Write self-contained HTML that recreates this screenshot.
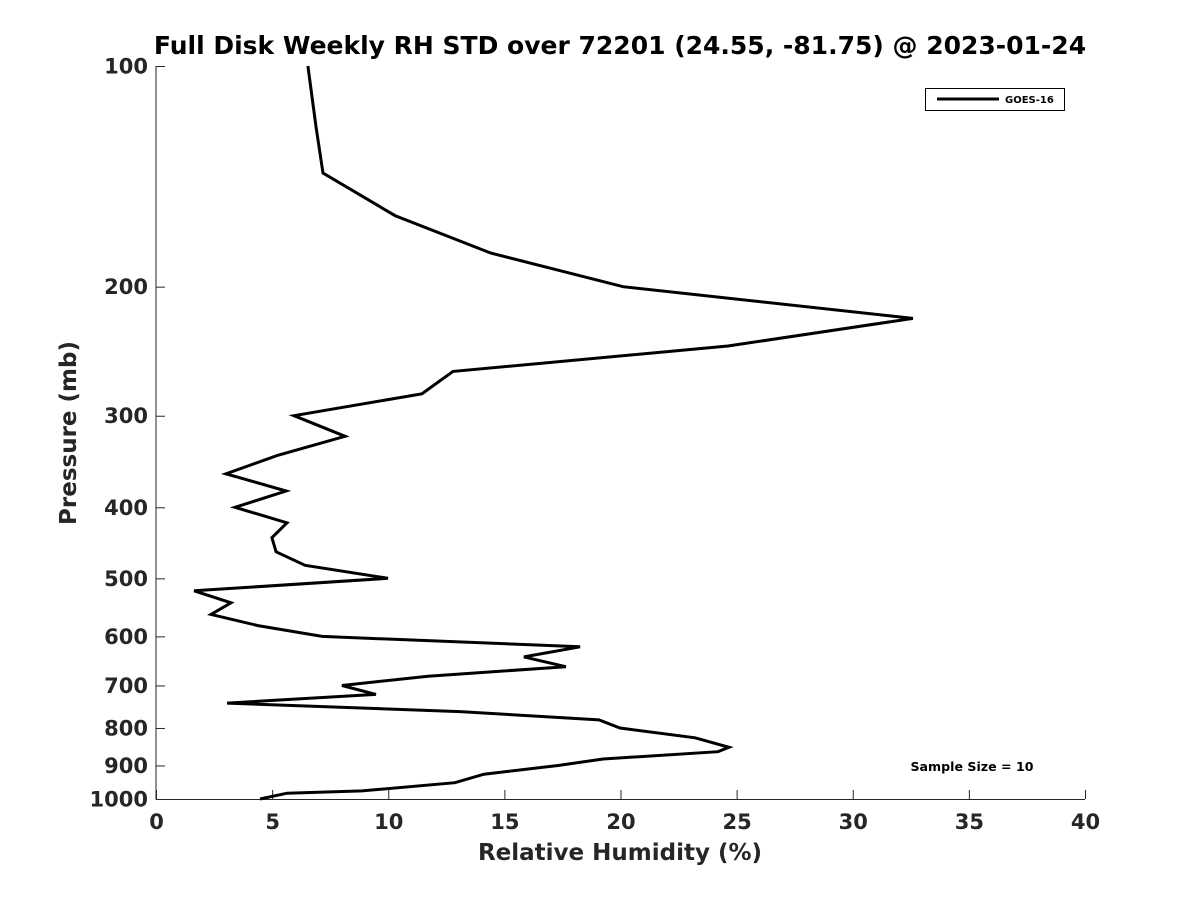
<!DOCTYPE html>
<html><head><meta charset="utf-8"><style>
html,body{margin:0;padding:0;background:#fff;}
svg{display:block;font-family:"DejaVu Sans","Liberation Sans",sans-serif;}
</style></head><body>
<svg id="chart" width="1200" height="900">
<rect width="1200" height="900" fill="#fff"/>
<text x="620" y="54" text-anchor="middle" font-size="25" font-weight="bold" fill="#000">Full Disk Weekly RH STD over 72201 (24.55, -81.75) @ 2023-01-24</text>
<g id="axes"></g>
<polyline id="series" fill="none" stroke="#000" stroke-width="3" stroke-linejoin="miter"/>
<text x="620" y="860" text-anchor="middle" font-size="23" font-weight="bold" fill="#262626">Relative Humidity (%)</text>
<text transform="translate(76,433) rotate(-90)" text-anchor="middle" font-size="23" font-weight="bold" fill="#262626">Pressure (mb)</text>
<g>
<rect x="925.5" y="88.5" width="139" height="22" fill="#fff" stroke="#000" stroke-width="1"/>
<line x1="937" y1="99" x2="999" y2="99" stroke="#000" stroke-width="3"/>
<text x="1005" y="103" font-size="10" font-weight="bold" fill="#000">GOES-16</text>
</g>
<text x="972" y="771" text-anchor="middle" font-size="12.6" font-weight="bold" fill="#000">Sample Size = 10</text>
</svg>
<script>
const rhValues=[6.54,6.89,7.19,10.29,14.42,20.11,32.59,24.63,12.79,11.45,5.94,8.14,5.21,3.01,5.60,3.40,5.64,4.99,5.17,6.42,9.99,1.64,3.23,2.37,4.39,7.15,18.26,15.84,17.65,11.71,8.01,9.47,3.06,13.09,19.07,19.98,23.21,24.67,24.20,19.25,17.31,14.12,12.87,8.87,5.64,4.48];
const pressures=[100,121,140,160,180,200,221,241,261,280,300,320,340,360,380,400,420,440,460,480,500,520,540,560,580,600,620,640,660,680,700,720,740,760,780,800,825,850,862,882,900,925,950,975,982,1000];
const xTicks=[0,5,10,15,20,25,30,35,40];
const yTicks=[100,200,300,400,500,600,700,800,900,1000];
const X0=156,X1=1085,Y0=66,Y1=799;
const xs=v=>X0+(v-0)/(40-0)*(X1-X0);
const ys=p=>Y0+Math.log10(p/100)/Math.log10(10)*(Y1-Y0);
const NS="http://www.w3.org/2000/svg";
const axes=document.getElementById('axes');
function mk(tag,attrs){const e=document.createElementNS(NS,tag);for(const k in attrs)e.setAttribute(k,attrs[k]);axes.appendChild(e);return e;}
let l=mk('line',{x1:X0,y1:Y0,x2:X0,y2:Y1+0.5,stroke:'#262626','stroke-width':1});


l=mk('line',{x1:X0,y1:Y1+0.5,x2:X1,y2:Y1+0.5,stroke:'#262626','stroke-width':1});


xTicks.forEach(v=>{
 const x=xs(v)+0.5;
 const t=mk('line',{x1:x,y1:Y1,x2:x,y2:Y1-9,stroke:'#262626','stroke-width':1});
 
 
 const tx=mk('text',{x:x,y:829,'text-anchor':'middle','font-size':21,'font-weight':'bold',fill:'#262626'});
 tx.textContent=v;
 
 
});
yTicks.forEach(p=>{
 const y=ys(p)+0.5;
 const t=mk('line',{x1:X0,y1:y,x2:X0+9,y2:y,stroke:'#262626','stroke-width':1});
 
 
 const tx=mk('text',{x:148,y:y+7,'text-anchor':'end','font-size':21,'font-weight':'bold',fill:'#262626'});
 tx.textContent=p;
 
 
});
document.getElementById('series').setAttribute('points',rhValues.map((v,i)=>xs(v).toFixed(1)+','+ys(pressures[i]).toFixed(1)).join(' '));
</script>
</body></html>
